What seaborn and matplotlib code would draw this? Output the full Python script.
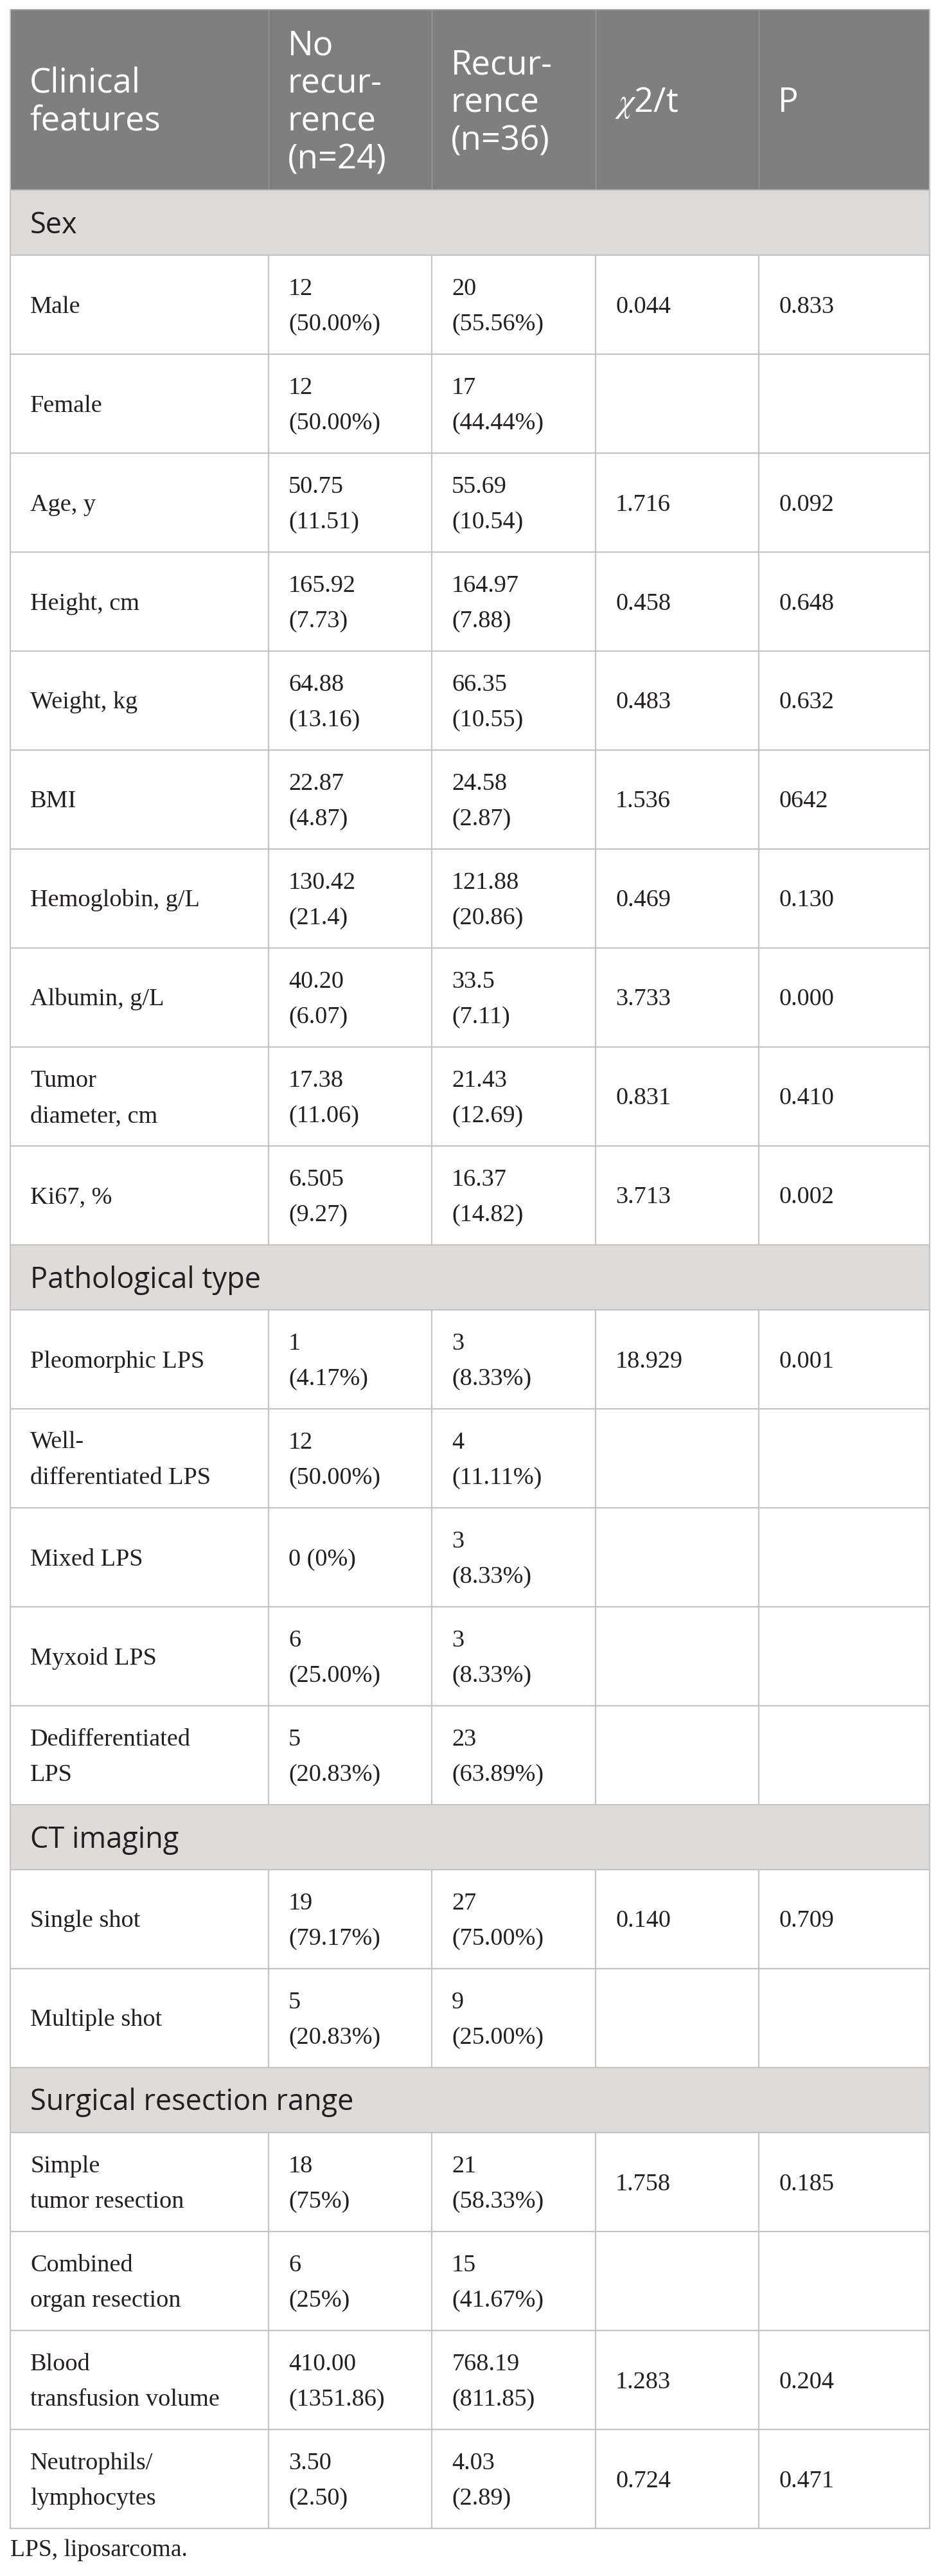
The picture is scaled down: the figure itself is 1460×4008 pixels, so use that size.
import matplotlib
matplotlib.use("Agg")
import matplotlib.pyplot as plt
import seaborn as sns

# ---------------- data ----------------
col_headers = ["Clinical\nfeatures", "No\nrecur-\nrence\n(n=24)", "Recur-\nrence\n(n=36)", "$\\chi$2/t", "P"]

section_names = ["Sex", "Pathological type", "CT imaging", "Surgical resection range"]
section_sizes = [10, 5, 2, 4]

features = ["Male", "Female", "Age, y", "Height, cm", "Weight, kg", "BMI",
            "Hemoglobin, g/L", "Albumin, g/L", "Tumor\ndiameter, cm", "Ki67, %",
            "Pleomorphic LPS", "Well-\ndifferentiated LPS", "Mixed LPS", "Myxoid LPS",
            "Dedifferentiated\nLPS",
            "Single shot", "Multiple shot",
            "Simple\ntumor resection", "Combined\norgan resection",
            "Blood\ntransfusion volume", "Neutrophils/\nlymphocytes"]

no_recurrence = ["12\n(50.00%)", "12\n(50.00%)", "50.75\n(11.51)", "165.92\n(7.73)",
                 "64.88\n(13.16)", "22.87\n(4.87)", "130.42\n(21.4)", "40.20\n(6.07)",
                 "17.38\n(11.06)", "6.505\n(9.27)",
                 "1\n(4.17%)", "12\n(50.00%)", "0 (0%)", "6\n(25.00%)", "5\n(20.83%)",
                 "19\n(79.17%)", "5\n(20.83%)",
                 "18\n(75%)", "6\n(25%)", "410.00\n(1351.86)", "3.50\n(2.50)"]

recurrence = ["20\n(55.56%)", "17\n(44.44%)", "55.69\n(10.54)", "164.97\n(7.88)",
              "66.35\n(10.55)", "24.58\n(2.87)", "121.88\n(20.86)", "33.5\n(7.11)",
              "21.43\n(12.69)", "16.37\n(14.82)",
              "3\n(8.33%)", "4\n(11.11%)", "3\n(8.33%)", "3\n(8.33%)", "23\n(63.89%)",
              "27\n(75.00%)", "9\n(25.00%)",
              "21\n(58.33%)", "15\n(41.67%)", "768.19\n(811.85)", "4.03\n(2.89)"]

chi_t = ["0.044", "", "1.716", "0.458", "0.483", "1.536", "0.469", "3.733", "0.831", "3.713",
         "18.929", "", "", "", "",
         "0.140", "",
         "1.758", "", "1.283", "0.724"]

p_values = ["0.833", "", "0.092", "0.648", "0.632", "0642", "0.130", "0.000", "0.410", "0.002",
            "0.001", "", "", "", "",
            "0.709", "",
            "0.185", "", "0.204", "0.471"]

footnote = "LPS, liposarcoma."

# ---------------- style ----------------
sns.set_theme(style="white")
plt.rcParams["font.family"] = ["Liberation Serif", "DejaVu Serif"]
plt.rcParams["mathtext.fontset"] = "stix"

W, H = 1460, 4008
fig = plt.figure(figsize=(W / 100, H / 100), dpi=100)
ax = fig.add_axes([0, 0, 1, 1])
ax.set_xlim(0, W)
ax.set_ylim(H, 0)
ax.axis("off")

HEADER_BG = "#7f7f7f"
BAND_BG = "#dddcda"
GRID = "#c4c4c4"
TEXT = "#231f20"

col_x = [16, 418, 672, 927, 1181, 1447]
pad = 30
top = 15
header_bottom = 296
band_h = 101
row_h = 154

sans = ["Open Sans", "DejaVu Sans"]
serif = ["Liberation Serif", "DejaVu Serif"]


def place_lines(x, center, text, lead, cap, **kw):
    lines = text.split("\n")
    n = len(lines)
    for i, ln in enumerate(lines):
        yb = center + (i - (n - 1) / 2) * lead + cap / 2
        ax.text(x, yb, ln, va="baseline", ha="left", **kw)


def rect(x0, x1, y0, y1, color):
    ax.fill_between([x0, x1], [y0, y0], [y1, y1], color=color, lw=0, zorder=0)


# header
rect(col_x[0], col_x[-1], top, header_bottom, HEADER_BG)
for j, hdr in enumerate(col_headers):
    place_lines(col_x[j] + pad, (top + header_bottom) / 2, hdr, 59, 37,
                family=sans, fontsize=38, color="white")
for xv in col_x[1:-1]:
    ax.plot([xv, xv], [top, header_bottom], color="#9a9a9a", lw=1.0, zorder=2)
ax.plot([col_x[0], col_x[-1]], [top, top], color="#a8a8a8", lw=1.4, zorder=2)

# body
y = header_bottom
idx = 0
for name, size in zip(section_names, section_sizes):
    rect(col_x[0], col_x[-1], y, y + band_h, BAND_BG)
    place_lines(col_x[0] + pad + 1, y + band_h / 2, name, 55, 32,
                family=sans, fontsize=32.5, color=TEXT)
    ax.plot([col_x[0], col_x[-1]], [y, y], color=GRID, lw=1.6, zorder=2)
    y += band_h
    for k in range(size):
        cells = [features[idx], no_recurrence[idx], recurrence[idx], chi_t[idx], p_values[idx]]
        for j, txt in enumerate(cells):
            if txt:
                place_lines(col_x[j] + pad + 1, y + row_h / 2, txt, 55, 25,
                            family=serif, fontsize=27.5, color=TEXT)
        ax.plot([col_x[0], col_x[-1]], [y, y], color=GRID, lw=1.6, zorder=2)
        for xv in col_x[1:-1]:
            ax.plot([xv, xv], [y, y + row_h], color=GRID, lw=1.6, zorder=2)
        y += row_h
        idx += 1

ax.plot([col_x[0], col_x[-1]], [y, y], color=GRID, lw=1.6, zorder=2)
for xv in (col_x[0], col_x[-1]):
    ax.plot([xv, xv], [top, y], color=GRID, lw=1.6, zorder=2)

ax.text(col_x[0], y + 43, footnote, va="baseline", ha="left",
        family=serif, fontsize=27, color=TEXT)

fig.savefig("out.png", dpi=100, facecolor="white")
